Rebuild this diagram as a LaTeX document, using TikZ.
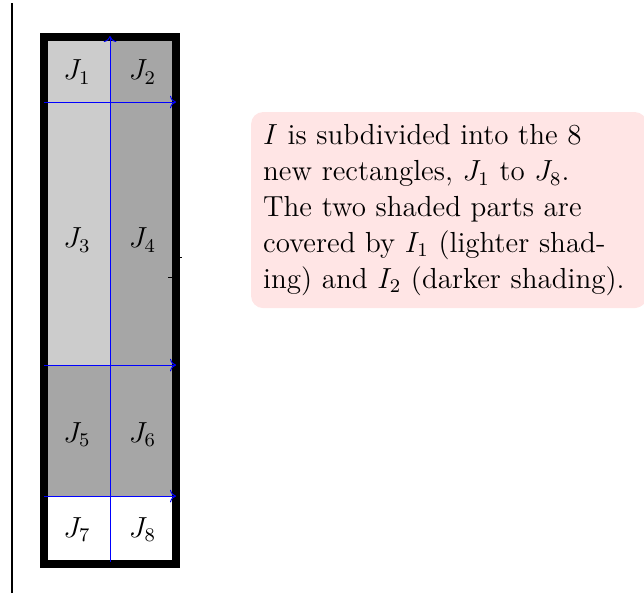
\documentclass[tikz,border=0pt]{standalone}
\usepackage{amsmath, amssymb}
\usetikzlibrary{arrows.meta}
\begin{document}
\begin{tikzpicture}[font=\fontsize{12}{14.8}\selectfont,
  cut/.style={blue, -{To}},
  lite/.style={fill=black!20},
  dark/.style={fill=black!35}]
  \useasboundingbox (0,0) rectangle (9.36,8.62);
  % --- the rule on the left ---
  \draw[line width=0.6pt] (0.174,0) -- (0.174,8.576);
  % --- the shaded parts ---
  \fill[lite] (0.64,3.314) rectangle (1.599,8.081);
  \fill[dark] (1.599,3.314) rectangle (2.558,8.081);
  \fill[dark] (0.64,1.410) rectangle (2.558,3.314);
  % --- the frame of I ---
  \draw[line width=3.3pt] (0.64,0.4215) rectangle (2.558,8.081);
  % --- the cuts ---
  \draw[cut] (1.599,0.45) -- (1.599,8.096);
  \foreach \y in {7.137, 3.314, 1.410}
    \draw[cut] (0.64,\y) -- (2.558,\y);
  % --- small ticks ---
  \draw (2.590,4.884) -- (2.645,4.884);
  \draw (2.445,4.593) -- (2.500,4.593);
  % --- the labels ---
  \foreach \y/\a/\b in {7.57/1/2, 5.13/3/4, 2.30/5/6, 0.92/7/8} {
    \node (J\a) at (1.12,\y) {$J_{\a}$};
    \node (J\b) at (2.07,\y) {$J_{\b}$};
  }
  % --- the note ---
  \node[fill=red!10, rounded corners=5pt, align=left, text width=5.40cm,
        inner sep=5pt, minimum height=2.85cm] (note)
    at (6.525,5.567)
    {$I$ is subdivided into the 8\\
     new rectangles, $J_1$ to $J_8$.\\
     The two shaded parts are\\
     covered by $I_1$ (lighter shad-\\
     ing) and $I_2$ (darker shading).};
\end{tikzpicture}
\end{document}
